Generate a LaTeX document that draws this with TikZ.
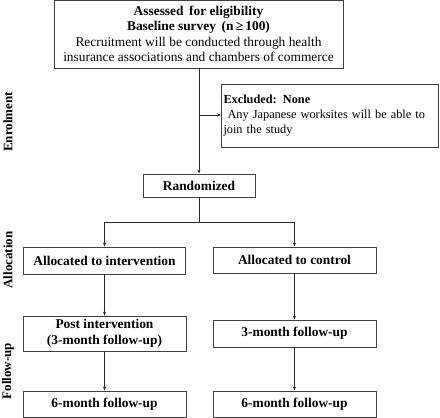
\documentclass[tikz,border=0pt]{standalone}
\usepackage{fontspec}
\setmainfont{Liberation Serif}
\usetikzlibrary{arrows.meta}
\begin{document}
\begin{tikzpicture}[x=1pt,y=-1pt,
  box/.style={draw=black!75,line width=0.8pt,inner sep=0pt,font=\fontsize{13.4}{15.5}\selectfont},
  bbox/.style={box,font=\bfseries\fontsize{13.4}{15.5}\selectfont},
  conn/.style={draw=black!85,line width=0.8pt},
  arr/.style={conn,-{Stealth[length=4pt,width=3pt]}},
  phase/.style={rotate=90,font=\bfseries\fontsize{13}{15}\selectfont}]
\useasboundingbox (0,0) rectangle (440,418);
\node[box,minimum width=289pt,minimum height=68pt,align=center] (assess) at (198.5,34)
  {\textbf{Assessed\, for eligibility}\\ \textbf{Baseline survey\, (n\,≥\,100)}\\ Recruitment will be conducted through health\\ insurance associations and chambers of commerce};
\node[box,minimum width=217pt,minimum height=63pt,align=left,text width=213pt,font=\fontsize{12.3}{14.6}\selectfont] (excl) at (330,115.5)
  {\mbox{\textbf{Excluded: None}}\\ \mbox{\ Any Japanese worksites will be able to}\\ \mbox{join the study}};
\node[bbox,minimum width=112pt,minimum height=23pt] (rand) at (199,185.5) {Randomized};
\node[bbox,minimum width=162pt,minimum height=27pt] (ai) at (104.5,260.5) {Allocated to intervention};
\node[bbox,minimum width=163pt,minimum height=26pt] (ac) at (294.5,260) {Allocated to control};
\node[bbox,minimum width=163pt,minimum height=35pt,align=center] (pi) at (104.5,333.5) {Post intervention\\(3-month follow-up)};
\node[bbox,minimum width=163pt,minimum height=27pt] (c3) at (294.5,333.5) {3-month follow-up};
\node[bbox,minimum width=163pt,minimum height=26pt] (i6) at (104.5,404) {6-month follow-up};
\node[bbox,minimum width=163pt,minimum height=26pt] (c6) at (294.5,404) {6-month follow-up};
\node[phase] (enr) at (8,122) {Enrolment};
\node[phase] (alloc) at (8,260) {Allocation};
\node[phase] (fu) at (8,371) {Follow-up};
\coordinate (j) at (199,115);
\coordinate (split) at (199,222);
\draw[arr] (assess.south -| rand.north) -- (rand.north);
\draw[arr] (j) -- (j -| excl.west);
\draw[conn] (rand.south) -- (split);
\draw[arr] (split) -| (ai.north);
\draw[arr] (split) -| (ac.north);
\draw[arr] (ai.south) -- (pi.north);
\draw[arr] (ac.south) -- (c3.north);
\draw[arr] (pi.south) -- (i6.north);
\draw[arr] (c3.south) -- (c6.north);
\end{tikzpicture}
\end{document}
